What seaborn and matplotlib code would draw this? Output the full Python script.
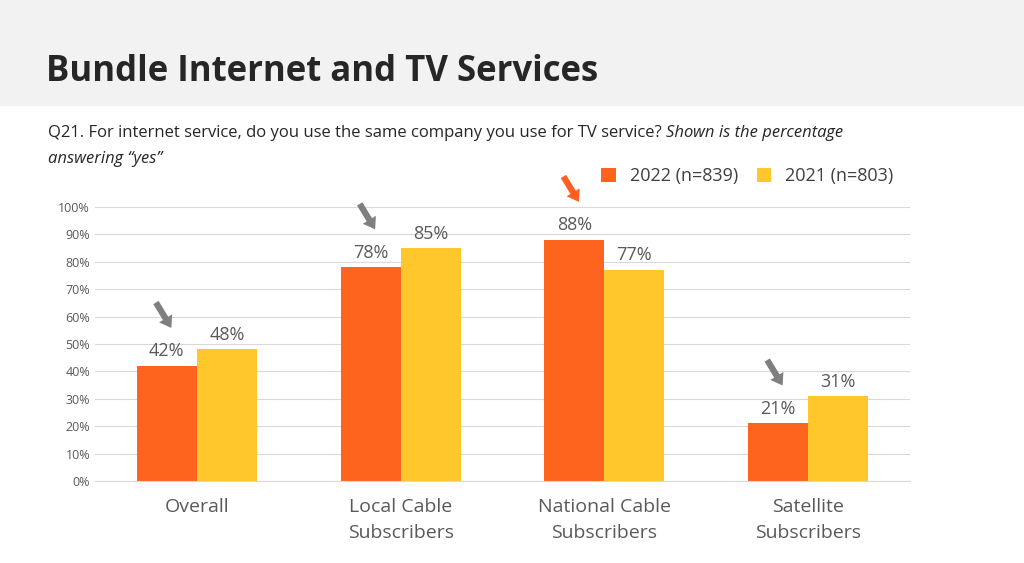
import matplotlib.pyplot as plt
import seaborn as sns
import pandas as pd
from matplotlib.patches import Rectangle

categories = ["Overall", "Local Cable\nSubscribers", "National Cable\nSubscribers", "Satellite\nSubscribers"]
series = ["2022 (n=839)", "2021 (n=803)"]
values_2022 = [42, 78, 88, 21]
values_2021 = [48, 85, 77, 31]
arrow_colors = ["#7f7f7f", "#7f7f7f", "#ff5f1f", "#7f7f7f"]

df = pd.DataFrame({
    "cat": categories * 2,
    "series": [series[0]] * 4 + [series[1]] * 4,
    "val": values_2022 + values_2021,
})

plt.rcParams["font.family"] = "Open Sans"
fig = plt.figure(figsize=(10.24, 5.63), dpi=100)
fig.patches.append(Rectangle((0, 1 - 105 / 563), 1, 105 / 563, transform=fig.transFigure,
                             color="#f2f2f2", zorder=0))
fig.text(46 / 1024, 1 - 72 / 563, "Bundle Internet and TV Services", fontsize=25,
         fontweight="bold", color="#262626", va="center")
t1 = fig.text(48 / 1024, 1 - 133 / 563,
              "Q21. For internet service, do you use the same company you use for TV service? ",
              fontsize=12, color="#262626", va="center")
fig.canvas.draw()
bb = t1.get_window_extent()
fig.text(bb.x1 / 1024, 1 - 133 / 563, "Shown is the percentage", fontsize=12,
         style="italic", color="#262626", va="center")
fig.text(48 / 1024, 1 - 159 / 563, "answering \u201cyes\u201d", fontsize=12,
         style="italic", color="#262626", va="center")

ax = fig.add_axes([95 / 1024, 82 / 563, 815 / 1024, 274 / 563])
sns.barplot(data=df, x="cat", y="val", hue="series", palette=["#ff641e", "#ffc72c"],
            width=0.59, saturation=1, ax=ax)
ax.set_ylim(0, 100)
ax.set_yticks(range(0, 101, 10))
ax.set_yticklabels([f"{v}%" for v in range(0, 101, 10)], fontsize=9, color="#595959")
ax.set_xticks(range(4))
ax.set_xticklabels(categories, linespacing=1.6)
ax.tick_params(axis="x", labelsize=14, colors="#595959", length=0, pad=12)
ax.tick_params(axis="y", length=0)
ax.set_xlabel("")
ax.set_ylabel("")
ax.grid(axis="y", color="#d9d9d9", linewidth=0.8)
ax.set_axisbelow(True)
for s in ["top", "right", "left"]:
    ax.spines[s].set_visible(False)
ax.spines["bottom"].set_color("#d9d9d9")

for cont in ax.containers:
    ax.bar_label(cont, labels=[f"{v:.0f}%" for v in cont.datavalues], fontsize=13,
                 color="#595959", padding=4)

for i, (v, c) in enumerate(zip(values_2022, arrow_colors)):
    x = i - 0.148
    ax.annotate("", xy=(x + 0.03, v + 13), xytext=(x - 0.06, v + 24), annotation_clip=False,
                arrowprops=dict(arrowstyle="simple,head_width=1.1,head_length=0.8,tail_width=0.45",
                                color=c, lw=0))

ax.legend(loc="lower right", bbox_to_anchor=(1.0, 1.02), ncol=2, frameon=False,
          fontsize=13, handlelength=0.8, handleheight=0.8, columnspacing=1.0,
          labelcolor="#404040")

fig.savefig("out.png", dpi=100)
